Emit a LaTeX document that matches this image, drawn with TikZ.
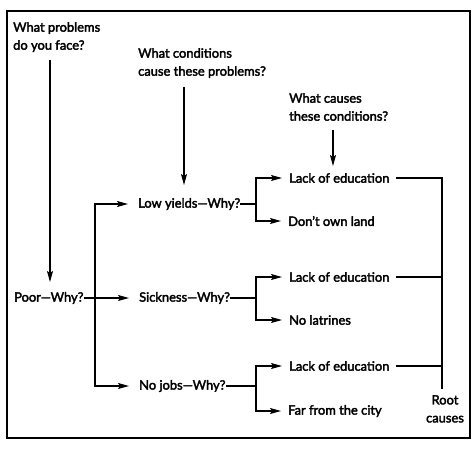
\documentclass[tikz,border=0pt]{standalone}
\usepackage{fontspec}
\setmainfont{Lato}[FakeBold=2.6]
\usetikzlibrary{arrows.meta,calc}
\begin{document}
\begin{tikzpicture}[x=1pt,y=-1pt,
  lbl/.style={anchor=west,inner sep=0pt,font=\fontsize{12.9}{15}\selectfont},
  qlbl/.style={anchor=north west,inner sep=0pt,align=left,font=\fontsize{12.9}{18}\selectfont},
  ln/.style={line width=1.1pt},
  arr/.style={ln,-{Stealth[length=11pt,width=6pt,inset=2pt]}},
]
\useasboundingbox (0,0) rectangle (474,448);
\draw[line width=1.2pt] (7,11) rectangle (470,438);
% questions
\node[qlbl] (q1) at (13,22) {What problems\\do you face?};
\node[qlbl] (q2) at (138,48) {What conditions\\cause these problems?};
\node[qlbl] (q3) at (289,93) {What causes\\these conditions?};
% level 1
\node[lbl] (poor) at (14,298) {Poor—Why?};
% level 2
\node[lbl] (low) at (138,204) {Low yields—Why?};
\node[lbl] (sick) at (139,298) {Sickness—Why?};
\node[lbl] (jobs) at (139,386) {No jobs—Why?};
% level 3
\node[lbl] (l1) at (289,178) {Lack of education};
\node[lbl] (d1) at (288,221) {Don’t own land};
\node[lbl] (l2) at (289,277) {Lack of education};
\node[lbl] (d2) at (289,320) {No latrines};
\node[lbl] (l3) at (289,366) {Lack of education};
\node[lbl] (d3) at (288,411) {Far from the city};
% root
\node[anchor=north,inner sep=0pt,align=center,font=\fontsize{12.9}{18}\selectfont] (root) at (445,395) {Root\\causes};
% question arrows
\coordinate (a1s) at (50,60);
\coordinate (a2s) at (184,87);
\coordinate (a3s) at (333,130);
\draw[arr] (a1s) -- (50,282);
\draw[arr] (a2s) -- (184,185);
\draw[arr] (a3s) -- (333,166);
% level 1 to 2
\coordinate (b1) at (95,298);
\draw[arr,shorten >=10pt] (poor.east) -- (sick.west);
\draw[arr,shorten >=10pt] (b1) |- (low.west);
\draw[arr,shorten >=10pt] (b1) |- (jobs.west);
% level 2 to 3
\coordinate (c1) at (256,204);
\coordinate (c2) at (256,298);
\coordinate (c3) at (256,386);
\draw[ln] (low.east) -- (c1);
\draw[ln] (sick.east) -- (c2);
\draw[ln] (jobs.east) -- (c3);
\draw[arr,shorten >=7pt] (c1) |- (l1.west);
\draw[arr,shorten >=7pt] (c1) |- (d1.west);
\draw[arr,shorten >=7pt] (c2) |- (l2.west);
\draw[arr,shorten >=7pt] (c2) |- (d2.west);
\draw[arr,shorten >=7pt] (c3) |- (l3.west);
\draw[arr,shorten >=7pt] (c3) |- (d3.west);
% root
\coordinate (r) at (442,389);
\draw[ln,shorten <=6pt] (l1.east) -| (r);
\draw[ln,shorten <=6pt] (l2.east) -- (l2.east -| r);
\draw[ln,shorten <=6pt] (l3.east) -- (l3.east -| r);
\end{tikzpicture}
\end{document}
